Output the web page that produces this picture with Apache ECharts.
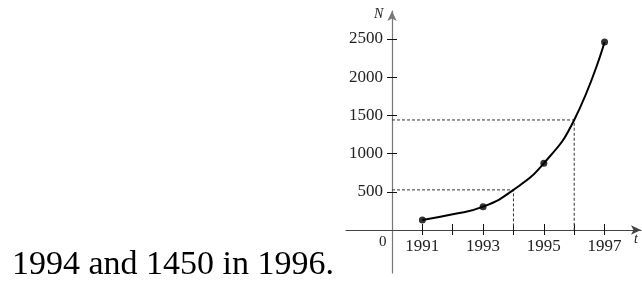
<!DOCTYPE html>
<html>
<head>
<meta charset="utf-8">
<script src="https://cdn.jsdelivr.net/npm/echarts@6/dist/echarts.min.js"></script>
<style>html,body{margin:0;padding:0;background:#fff}#c{width:642px;height:285px}</style>
</head>
<body>
<div id="c"></div>
<script>
// data
var baseYear = 1990;
var curveYears = [1991, 1992, 1993, 1994, 1995, 1996, 1997];
var curveValues = [131, 205, 305, 525, 873, 1440, 2461];
var markYears = [1991, 1993, 1995, 1997];
var markValues = [131, 305, 873, 2461];
var guideYears = [1994, 1996];
var guideValues = [525, 1440];
var xTickYears = [1991, 1992, 1993, 1994, 1995, 1996, 1997];
var xLabelYears = [1991, 1993, 1995, 1997];
var yTicks = [500, 1000, 1500, 2000, 2500];

function toPts(xs, ys) { return xs.map(function (x, i) { return [x - baseYear, ys[i]]; }); }
var serif = 'Liberation Serif, Times New Roman, serif';
var xTickVals = xTickYears.map(function (y) { return y - baseYear; });
var xAxisColor = '#444', yAxisColor = '#777';

var guideSeries = guideYears.map(function (yr, i) {
  var t = yr - baseYear;
  return {
    type: 'line', xAxisIndex: 0, yAxisIndex: 0, symbol: 'none', silent: true,
    lineStyle: { color: '#333', width: 1, type: [3, 2] },
    data: [[0, guideValues[i]], [t, guideValues[i]], [t, 0]], z: 1
  };
});

var chart = echarts.init(document.getElementById('c'), null, { renderer: 'canvas' });
chart.setOption({
  animation: false,
  grid: [
    { left: 392, right: 1, top: 11, bottom: 55, containLabel: false, outerBoundsMode: 'none' },
    { left: 392, right: 1, top: 230, bottom: 12, containLabel: false, outerBoundsMode: 'none' },
    { left: 346, width: 46, top: 11, bottom: 55, containLabel: false, outerBoundsMode: 'none' }
  ],
  xAxis: [{
    gridIndex: 0, type: 'value', min: 0, max: 8.2, position: 'bottom',
    splitLine: { show: false },
    axisLine: { onZero: false, symbol: ['none', 'arrow'], symbolSize: [7, 10], lineStyle: { color: xAxisColor, width: 1 } },
    axisTick: { show: true, inside: true, length: 6, customValues: xTickVals, lineStyle: { color: '#111', width: 1 } },
    axisLabel: { margin: 8, fontFamily: serif, fontSize: 17, color: '#222',
      customValues: xLabelYears.map(function (y) { return y - baseYear; }),
      formatter: function (v) { return String(v + baseYear); } }
  }, {
    gridIndex: 1, type: 'value', min: 0, max: 8.2, position: 'top',
    splitLine: { show: false },
    axisLine: { show: false, onZero: false },
    axisTick: { show: true, inside: true, length: 5, customValues: xTickVals, lineStyle: { color: '#111', width: 1 } },
    axisLabel: { show: false }
  }, {
    gridIndex: 2, type: 'value', min: -1.5, max: 0, position: 'bottom',
    splitLine: { show: false },
    axisLine: { onZero: false, lineStyle: { color: xAxisColor, width: 1 } },
    axisTick: { show: false }, axisLabel: { show: false }
  }],
  yAxis: [{
    gridIndex: 0, type: 'value', min: 0, max: 2866, position: 'left',
    splitLine: { show: false },
    axisLine: { onZero: false, symbol: ['none', 'arrow'], symbolSize: [7, 10], lineStyle: { color: yAxisColor, width: 1.2 } },
    axisTick: { show: true, length: 5, customValues: yTicks, lineStyle: { color: '#111', width: 1 } },
    axisLabel: { margin: 9, fontFamily: serif, fontSize: 17, color: '#222', customValues: yTicks,
      formatter: function (v) { return String(v); } }
  }, {
    gridIndex: 0, type: 'value', min: 0, max: 2866, position: 'left',
    splitLine: { show: false },
    axisLine: { show: false, onZero: false },
    axisTick: { show: true, inside: true, length: 5, customValues: yTicks, lineStyle: { color: '#111', width: 1 } },
    axisLabel: { show: false }
  }, {
    gridIndex: 1, type: 'value', min: -563, max: 0, position: 'left',
    splitLine: { show: false },
    axisLine: { onZero: false, lineStyle: { color: yAxisColor, width: 1.2 } },
    axisTick: { show: false }, axisLabel: { show: false }
  }, {
    gridIndex: 2, type: 'value', min: 0, max: 2866, position: 'left', show: false
  }],
  series: guideSeries.concat([{
    type: 'line', xAxisIndex: 0, yAxisIndex: 0, symbol: 'none', smooth: 0.5,
    lineStyle: { color: '#000', width: 2 },
    data: toPts(curveYears, curveValues), z: 3
  }, {
    type: 'scatter', xAxisIndex: 0, yAxisIndex: 0, symbol: 'circle', symbolSize: 7,
    itemStyle: { color: '#000' },
    data: toPts(markYears, markValues), z: 4
  }]),
  graphic: [
    { type: 'text', left: 12, top: 248, style: { text: '1994 and 1450 in 1996.', font: '34px ' + serif, fill: '#000' } },
    { type: 'text', left: 193, top: -39, style: { text: 'graph', font: '34px ' + serif, fill: '#000' } },
    { type: 'text', left: 379, top: 235, style: { text: '0', font: '15px ' + serif, fill: '#222' } },
    { type: 'text', left: 374, top: 7, style: { text: 'N', font: 'italic 14px ' + serif, fill: '#222' } },
    { type: 'text', left: 634, top: 232, style: { text: 't', font: 'italic 14px ' + serif, fill: '#222' } }
  ]
});
</script>
</body>
</html>
